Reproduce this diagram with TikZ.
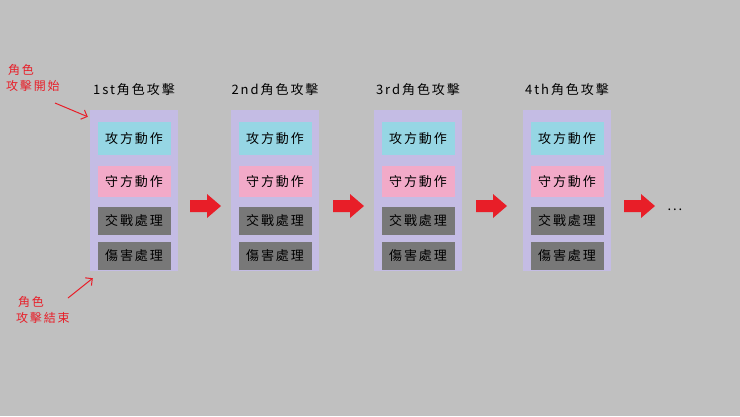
\documentclass[tikz,border=0pt]{standalone}
\usepackage{fontspec}
\setmainfont{Noto Sans CJK TC}[LetterSpace=15]
\usetikzlibrary{arrows.meta}
\definecolor{bg}{RGB}{192,192,192}
\definecolor{lav}{RGB}{196,188,228}
\definecolor{cy}{RGB}{150,214,228}
\definecolor{pk}{RGB}{242,170,200}
\definecolor{gr}{RGB}{120,120,120}
\definecolor{rd}{RGB}{232,30,40}
\tikzset{
 blk/.style={fill=lav,minimum width=88pt,minimum height=161pt,inner sep=0},
 sub/.style={fill=#1,minimum width=73pt,inner sep=0,font=\fontsize{13}{14}\selectfont},
 ttl/.style={font=\fontsize{13}{14}\selectfont},
 lbl/.style={text=rd,font=\fontsize{12}{16}\selectfont,align=left,inner sep=0},
 thin/.style={draw=rd,-{Straight Barb[length=5pt]},line width=1pt}
}
\begin{document}
\begin{tikzpicture}[x=1pt,y=-1pt]
\fill[bg] (0,0) rectangle (740,416);
\foreach \i/\x/\t in {1/134/1st,2/275/2nd,3/418/3rd,4/567/4th}{
 \node[blk] (b\i) at (\x,190.5) {};
 \node[ttl] (t\i) at (\x,90) {\t 角色攻擊};
 \node[sub=cy,minimum height=33pt] (c\i) at (\x,138.5) {攻方動作};
 \node[sub=pk,minimum height=31pt] (p\i) at (\x,181.5) {守方動作};
 \node[sub=gr,minimum height=28pt] (g\i) at (\x,221) {交戰處理};
 \node[sub=gr,minimum height=28pt] (h\i) at (\x,256) {傷害處理};
}
\foreach \x in {205,348,491,639}{
 \fill[rd] (\x-15,200) rectangle (\x+2,212) (\x+2,194) -- (\x+16,206) -- (\x+2,218) -- cycle;
}
\node[font=\fontsize{13}{14}\selectfont] (dots) at (675,210) {...};
\node[lbl] (s1) at (6,64) [anchor=north west] {\hspace*{2pt}角色\\攻擊開始};
\coordinate (a1) at (55,103);
\draw[thin] (a1) -- ([shift={(-2,7)}]b1.north west);
\node[lbl] (e1) at (16,296) [anchor=north west] {\hspace*{2pt}角色\\攻擊結束};
\coordinate (a2) at (68,298);
\draw[thin] (a2) -- ([shift={(3,7)}]b1.south west);
\end{tikzpicture}
\end{document}
